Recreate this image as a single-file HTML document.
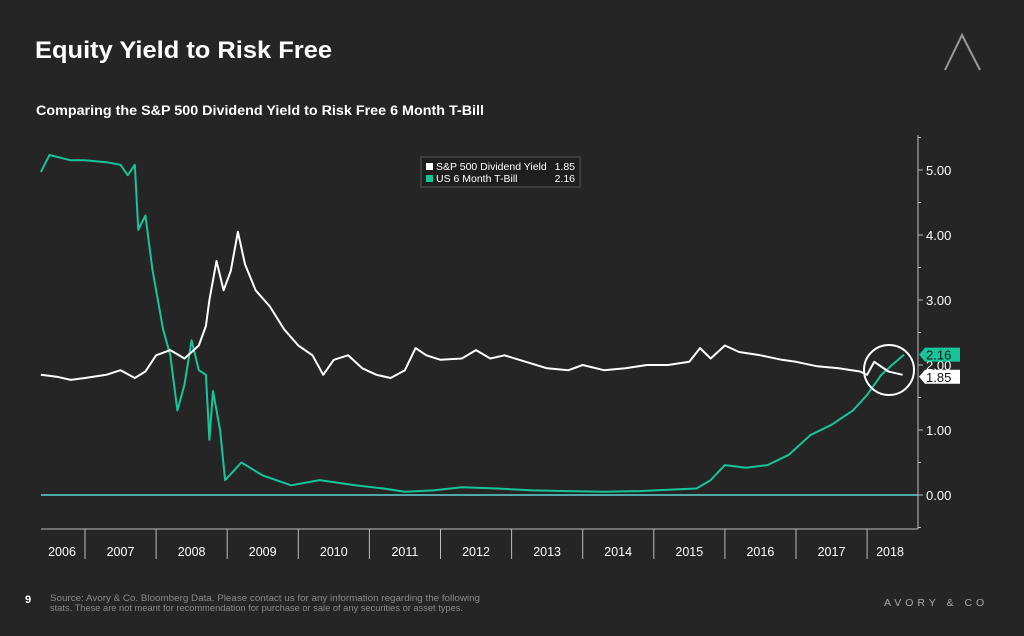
<!DOCTYPE html>
<html><head><meta charset="utf-8"><style>
html,body{margin:0;padding:0;background:#252525;width:1024px;height:636px;overflow:hidden;font-family:"Liberation Sans",sans-serif}
</style></head><body>
<svg width="1024" height="636" viewBox="0 0 1024 636" style="display:block">
<rect width="1024" height="636" fill="#252525"/>
<text x="35" y="58" fill="#fff" font-size="24" font-weight="bold" textLength="297" lengthAdjust="spacingAndGlyphs">Equity Yield to Risk Free</text>
<text x="36" y="115" fill="#fff" font-size="13.5" font-weight="bold" textLength="448" lengthAdjust="spacingAndGlyphs">Comparing the S&amp;P 500 Dividend Yield to Risk Free 6 Month T-Bill</text>
<g stroke="#9a9a9a" stroke-width="2" fill="none">
<path d="M945 70 L962 35 L980 70"/>
</g>
<g id="chart"></g>
<text x="25" y="603" fill="#fff" font-size="11" font-weight="bold">9</text>
<text x="50" y="601" fill="#8a8a8a" font-size="9" textLength="430" lengthAdjust="spacingAndGlyphs">Source: Avory &amp; Co. Bloomberg Data. Please contact us for any information regarding the following</text>
<text x="50" y="611" fill="#8a8a8a" font-size="9" textLength="413" lengthAdjust="spacingAndGlyphs">stats. These are not meant for recommendation for purchase or sale of any securities or asset types.</text>
<text x="884" y="606" fill="#aaa" font-size="10.5" letter-spacing="4">AVORY &amp; CO</text>
</svg>
<script>
const divDates=[2006.38,2006.6,2006.8,2007.0,2007.3,2007.5,2007.7,2007.85,2008.0,2008.2,2008.4,2008.6,2008.7,2008.75,2008.85,2008.95,2009.05,2009.15,2009.25,2009.4,2009.6,2009.8,2010.0,2010.2,2010.35,2010.5,2010.7,2010.9,2011.1,2011.3,2011.5,2011.65,2011.8,2012.0,2012.3,2012.5,2012.7,2012.9,2013.2,2013.5,2013.8,2014.0,2014.3,2014.6,2014.9,2015.2,2015.5,2015.65,2015.8,2016.0,2016.2,2016.5,2016.8,2017.0,2017.3,2017.6,2017.9,2018.0,2018.1,2018.3,2018.5];
const divValues=[1.85,1.82,1.77,1.8,1.85,1.92,1.8,1.9,2.15,2.23,2.1,2.3,2.6,3.0,3.6,3.15,3.45,4.05,3.55,3.15,2.9,2.55,2.3,2.15,1.85,2.08,2.15,1.95,1.85,1.8,1.92,2.26,2.15,2.08,2.1,2.23,2.1,2.15,2.05,1.95,1.92,2.0,1.92,1.95,2.0,2.0,2.05,2.26,2.1,2.3,2.2,2.15,2.08,2.05,1.98,1.95,1.9,1.85,2.05,1.9,1.85];
const tbDates=[2006.38,2006.5,2006.8,2007.0,2007.3,2007.5,2007.6,2007.7,2007.75,2007.85,2007.95,2008.1,2008.2,2008.3,2008.4,2008.5,2008.6,2008.7,2008.75,2008.8,2008.9,2008.97,2009.1,2009.2,2009.5,2009.9,2010.3,2010.8,2011.2,2011.5,2011.9,2012.3,2012.8,2013.3,2013.8,2014.3,2014.8,2015.2,2015.6,2015.8,2016.0,2016.3,2016.6,2016.9,2017.2,2017.5,2017.8,2018.0,2018.2,2018.35,2018.52];
const tbValues=[4.97,5.23,5.15,5.15,5.12,5.08,4.92,5.08,4.08,4.3,3.46,2.54,2.15,1.3,1.7,2.38,1.92,1.85,0.85,1.6,1.0,0.23,0.38,0.5,0.3,0.15,0.23,0.15,0.1,0.05,0.07,0.12,0.1,0.07,0.06,0.05,0.06,0.08,0.1,0.23,0.46,0.42,0.46,0.62,0.92,1.08,1.3,1.54,1.85,2.0,2.16];
const yTicks=[0,1,2,3,4,5];
const yTickLabels=["0.00","1.00","2.00","3.00","4.00","5.00"];
const years=[2006,2007,2008,2009,2010,2011,2012,2013,2014,2015,2016,2017,2018];

const NS="http://www.w3.org/2000/svg";
const g=document.getElementById('chart');
const X=t=>85+(t-2007)*71.1;
const Y=v=>495-v*65;
function mk(tag,a,parent){const e=document.createElementNS(NS,tag);for(const k in a)e.setAttribute(k,a[k]);(parent||g).appendChild(e);return e;}

let e=mk('line',{x1:918,y1:135,x2:918,y2:529,stroke:'#bbb','stroke-width':1});


e=mk('line',{x1:41,y1:529,x2:918,y2:529,stroke:'#bbb','stroke-width':1});


for(let v=-0.5;v<=5.5;v+=0.5){mk('line',{x1:918,y1:Y(v),x2:Math.abs(v-Math.round(v))<0.01?923:921,y2:Y(v),stroke:'#bbb'});}
yTicks.forEach((v,i)=>{
  const t=mk('text',{x:926,y:Y(v)+5,fill:'#fff','font-size':13});
  t.textContent=yTickLabels[i];
  
  
});
years.forEach((yr,i)=>{
  if(i>0){mk('line',{x1:X(yr),y1:529,x2:X(yr),y2:559,stroke:'#bbb'});}
  const cx=i==0?62:(i==years.length-1?890:X(yr)+35.5);
  const t=mk('text',{x:cx,y:556,fill:'#fff','font-size':12.5,'text-anchor':'middle'});
  t.textContent=yr;
  
  
});
e=mk('line',{x1:41,y1:Y(0),x2:918,y2:Y(0),stroke:'#5fd3d3','stroke-width':1.5});



function path(d,v){return d.map((t,i)=>(i?'L':'M')+X(t).toFixed(1)+' '+Y(v[i]).toFixed(1)).join(' ');}
e=mk('path',{d:path(tbDates,tbValues),fill:'none',stroke:'#17c59a','stroke-width':2,'stroke-linejoin':'round'});


e=mk('path',{d:path(divDates,divValues),fill:'none',stroke:'#fff','stroke-width':2,'stroke-linejoin':'round'});



e=mk('circle',{cx:889,cy:370,r:25,fill:'none',stroke:'#fff','stroke-width':2});



const lastT=tbValues[tbValues.length-1], lastD=divValues[divValues.length-1];
e=mk('path',{d:`M919 ${Y(lastT)} L925 ${Y(lastT)-7} L960 ${Y(lastT)-7} L960 ${Y(lastT)+7} L925 ${Y(lastT)+7} Z`,fill:'#17c59a'});


let t=mk('text',{x:926,y:Y(lastT)+5,fill:'#111','font-size':13});t.textContent=lastT.toFixed(2);


e=mk('path',{d:`M919 ${Y(lastD)+2} L925 ${Y(lastD)-5} L960 ${Y(lastD)-5} L960 ${Y(lastD)+9} L925 ${Y(lastD)+9} Z`,fill:'#fff'});


t=mk('text',{x:926,y:Y(lastD)+7,fill:'#111','font-size':13});t.textContent=lastD.toFixed(2);



const lg=mk('g',{});


mk('rect',{x:421,y:157,width:159,height:30,fill:'#1e1e1e',stroke:'#555'},lg);
mk('rect',{x:426,y:163,width:7,height:7,fill:'#fff'},lg);
mk('rect',{x:426,y:175,width:7,height:7,fill:'#17c59a'},lg);
const l1=mk('text',{x:436,y:170,fill:'#fff','font-size':10.5},lg);l1.textContent='S&P 500 Dividend Yield';


const v1=mk('text',{x:575,y:170,fill:'#fff','font-size':10.5,'text-anchor':'end'},lg);v1.textContent=lastD.toFixed(2);
const l2=mk('text',{x:436,y:182,fill:'#fff','font-size':10.5},lg);l2.textContent='US 6 Month T-Bill';


const v2=mk('text',{x:575,y:182,fill:'#fff','font-size':10.5,'text-anchor':'end'},lg);v2.textContent=lastT.toFixed(2);
</script>
</body></html>
